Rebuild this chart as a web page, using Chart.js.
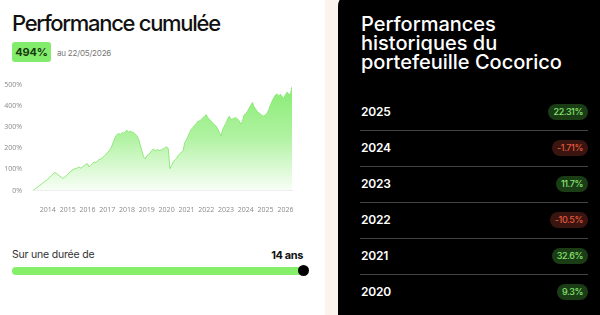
<!DOCTYPE html>
<html><head><meta charset="utf-8">
<script src="https://cdn.jsdelivr.net/npm/chart.js@4"></script>
<style>
html,body{margin:0;padding:0;width:600px;height:315px;overflow:hidden;background:#fbf3ee;font-family:Inter,"Noto Sans",sans-serif;}
#left{position:absolute;left:0;top:0;width:325px;height:315px;background:#fff;}
#right{position:absolute;left:338px;top:-6px;width:262px;height:330px;background:#000;border-radius:12px 0 0 0;}
.abs{position:absolute;white-space:nowrap;}
#title{left:12px;top:9px;font-size:22px;font-weight:500;letter-spacing:-1.3px;color:#111;line-height:28px;}
#badge{left:12px;top:42px;width:39px;height:20px;border-radius:3px;background:#83ec6c;color:#163a0e;font-weight:700;font-size:11px;line-height:20px;text-align:center;letter-spacing:-0.2px;}
#asof{left:57px;top:48px;font-size:8px;color:#777;line-height:10px;letter-spacing:-0.2px;}
#chartBox{position:absolute;left:0;top:78px;width:300px;height:140px;}
#dur{left:12px;top:248px;font-size:10.5px;color:#333;line-height:14px;letter-spacing:-0.2px;}
#ans{right:22px;top:248px;font-size:11px;font-weight:700;color:#111;line-height:14px;letter-spacing:-0.4px;}
#bar{left:12px;top:266.5px;width:291px;height:8px;border-radius:4px;background:#86ef6a;}
#knob{left:297.5px;top:265.2px;width:11px;height:11px;border-radius:50%;background:#000;}
#rtitle{left:23px;top:20.6px;font-size:20px;font-weight:500;letter-spacing:0px;line-height:19.4px;color:#fff;}
.year{left:23px;font-size:12px;font-weight:600;color:#fff;line-height:14px;letter-spacing:-0.2px;}
.sep{left:22px;width:228px;height:1px;background:#444;}
.pill{right:12px;height:16px;line-height:16px;border-radius:8px;padding:0 5px;font-size:9px;font-weight:500;letter-spacing:-0.4px;}
.pos{background:#1b3d16;color:#86e46e;}
.neg{background:#3a1510;color:#e4573c;}
</style></head>
<body>
<div id="left">
  <div id="title" class="abs">Performance cumulée</div>
  <div id="badge" class="abs">494%</div>
  <div id="asof" class="abs">au 22/05/2026</div>
  <div id="chartBox"><canvas id="c"></canvas></div>
  <div id="dur" class="abs">Sur une durée de</div>
  <div id="ans" class="abs">14 ans</div>
  <div id="bar" class="abs"></div>
  <div id="knob" class="abs"></div>
</div>
<div id="right">
  <div id="rtitle" class="abs">Performances<br>historiques du<br>portefeuille Cocorico</div>
</div>
<script>
// Cumulative performance (%), monthly readings; 2013 starts in April
const startYear = 2013;
const startMonth = 4;
const p2013 = [0, 6, 12, 18, 24, 30, 36, 42, 48];
const p2014 = [54, 62, 70, 78, 85, 82, 76, 70, 64, 57, 62, 68];
const p2015 = [76, 84, 92, 98, 102, 104, 108, 111, 106, 112, 118, 124];
const p2016 = [127, 112, 118, 126, 135, 132, 140, 146, 150, 155, 162, 170];
const p2017 = [178, 188, 197, 215, 236, 255, 267, 270, 266, 275, 272, 280];
const p2018 = [286, 276, 282, 277, 275, 268, 260, 244, 215, 189, 160, 150];
const p2019 = [165, 172, 178, 190, 197, 188, 194, 192, 190, 195, 197, 202];
const p2020 = [208, 197, 104, 118, 135, 145, 152, 166, 175, 182, 189, 228];
const p2021 = [240, 258, 276, 291, 300, 310, 318, 329, 330, 338, 345, 352];
const p2022 = [360, 345, 338, 329, 320, 312, 306, 292, 275, 259, 290, 306];
const p2023 = [320, 340, 353, 337, 340, 344, 345, 340, 330, 314, 330, 360];
const p2024 = [365, 376, 390, 405, 418, 398, 386, 376, 368, 362, 356, 353];
const p2025 = [360, 368, 385, 408, 425, 440, 454, 458, 450, 457, 445, 439];
const p2026 = [455, 467, 458, 454, 493];
const tickYears = [2014, 2015, 2016, 2017, 2018, 2019, 2020, 2021, 2022, 2023, 2024, 2025, 2026];
const yTicks = [0, 50, 100, 150, 200, 250, 300, 350, 400, 450, 500];

// Annual performance table
const annualYears = ['2025', '2024', '2023', '2022', '2021', '2020'];
const annualReturns = ['22.31%', '-1.71%', '11.7%', '-10.5%', '32.6%', '9.3%'];

const yearly = [p2013, p2014, p2015, p2016, p2017, p2018, p2019, p2020, p2021, p2022, p2023, p2024, p2025, p2026];
const pts = [];
yearly.forEach((arr, yi) => {
  const y = startYear + yi;
  const m0 = yi === 0 ? startMonth : 1;
  arr.forEach((v, k) => pts.push({x: y + (m0 - 1 + k) / 12, y: v}));
});

const ctx = document.getElementById('c').getContext('2d');
new Chart(ctx, {
  type: 'line',
  data: {datasets: [{
    data: pts,
    borderColor: '#8fe97b',
    borderWidth: 1,
    pointRadius: 0,
    tension: 0,
    fill: 'origin',
    backgroundColor: (c) => {
      const a = c.chart.chartArea;
      if (!a) return 'rgba(140,236,120,0.5)';
      const g = c.chart.ctx.createLinearGradient(0, a.top, 0, a.bottom);
      g.addColorStop(0, 'rgba(134,236,112,1)');
      g.addColorStop(0.5, 'rgba(150,238,130,0.75)');
      g.addColorStop(1, 'rgba(160,240,140,0.08)');
      return g;
    }
  }]},
  options: {
    responsive: true, maintainAspectRatio: false, animation: false,
    layout: {padding: {top: 5, right: 8, left: 0, bottom: 0}},
    plugins: {legend: {display: false}, tooltip: {enabled: false}},
    scales: {
      x: {
        type: 'linear',
        min: pts[0].x, max: pts[pts.length - 1].x,
        grid: {display: false, drawTicks: false},
        border: {display: true, color: '#eeeeee'},
        afterBuildTicks: s => { s.ticks = tickYears.map(v => ({value: v})); },
        afterFit: s => { s.height = 27.5; s.paddingLeft = 0; s.paddingRight = 0; },
        ticks: {padding: 15, autoSkip: false, maxRotation: 0, color: '#8a8a8a', font: {family: 'Open Sans', size: 7}, callback: v => String(v)}
      },
      y: {
        min: 0, max: 500,
        grid: {display: false},
        border: {display: false},
        afterBuildTicks: s => { s.ticks = yTicks.map(v => ({value: v})); },
        afterFit: s => { s.width = 33; },
        ticks: {padding: 3, color: '#8a8a8a', font: {family: 'Open Sans', size: 7}, callback: v => v + '%'}
      }
    }
  }
});

const right = document.getElementById('right');
annualYears.forEach((yr, i) => {
  const cy = 111.5 + 36 * i + 6; // +6 for panel offset
  const y = document.createElement('div');
  y.className = 'abs year'; y.textContent = yr; y.style.top = (cy - 7) + 'px';
  right.appendChild(y);
  const p = document.createElement('div');
  const v = annualReturns[i];
  p.className = 'abs pill ' + (v.startsWith('-') ? 'neg' : 'pos');
  p.textContent = v; p.style.top = (cy - 8) + 'px';
  right.appendChild(p);
  if (i < annualYears.length - 1) {
    const s = document.createElement('div');
    s.className = 'abs sep'; s.style.top = (cy + 18.5) + 'px';
    right.appendChild(s);
  }
});
</script>
</body></html>
